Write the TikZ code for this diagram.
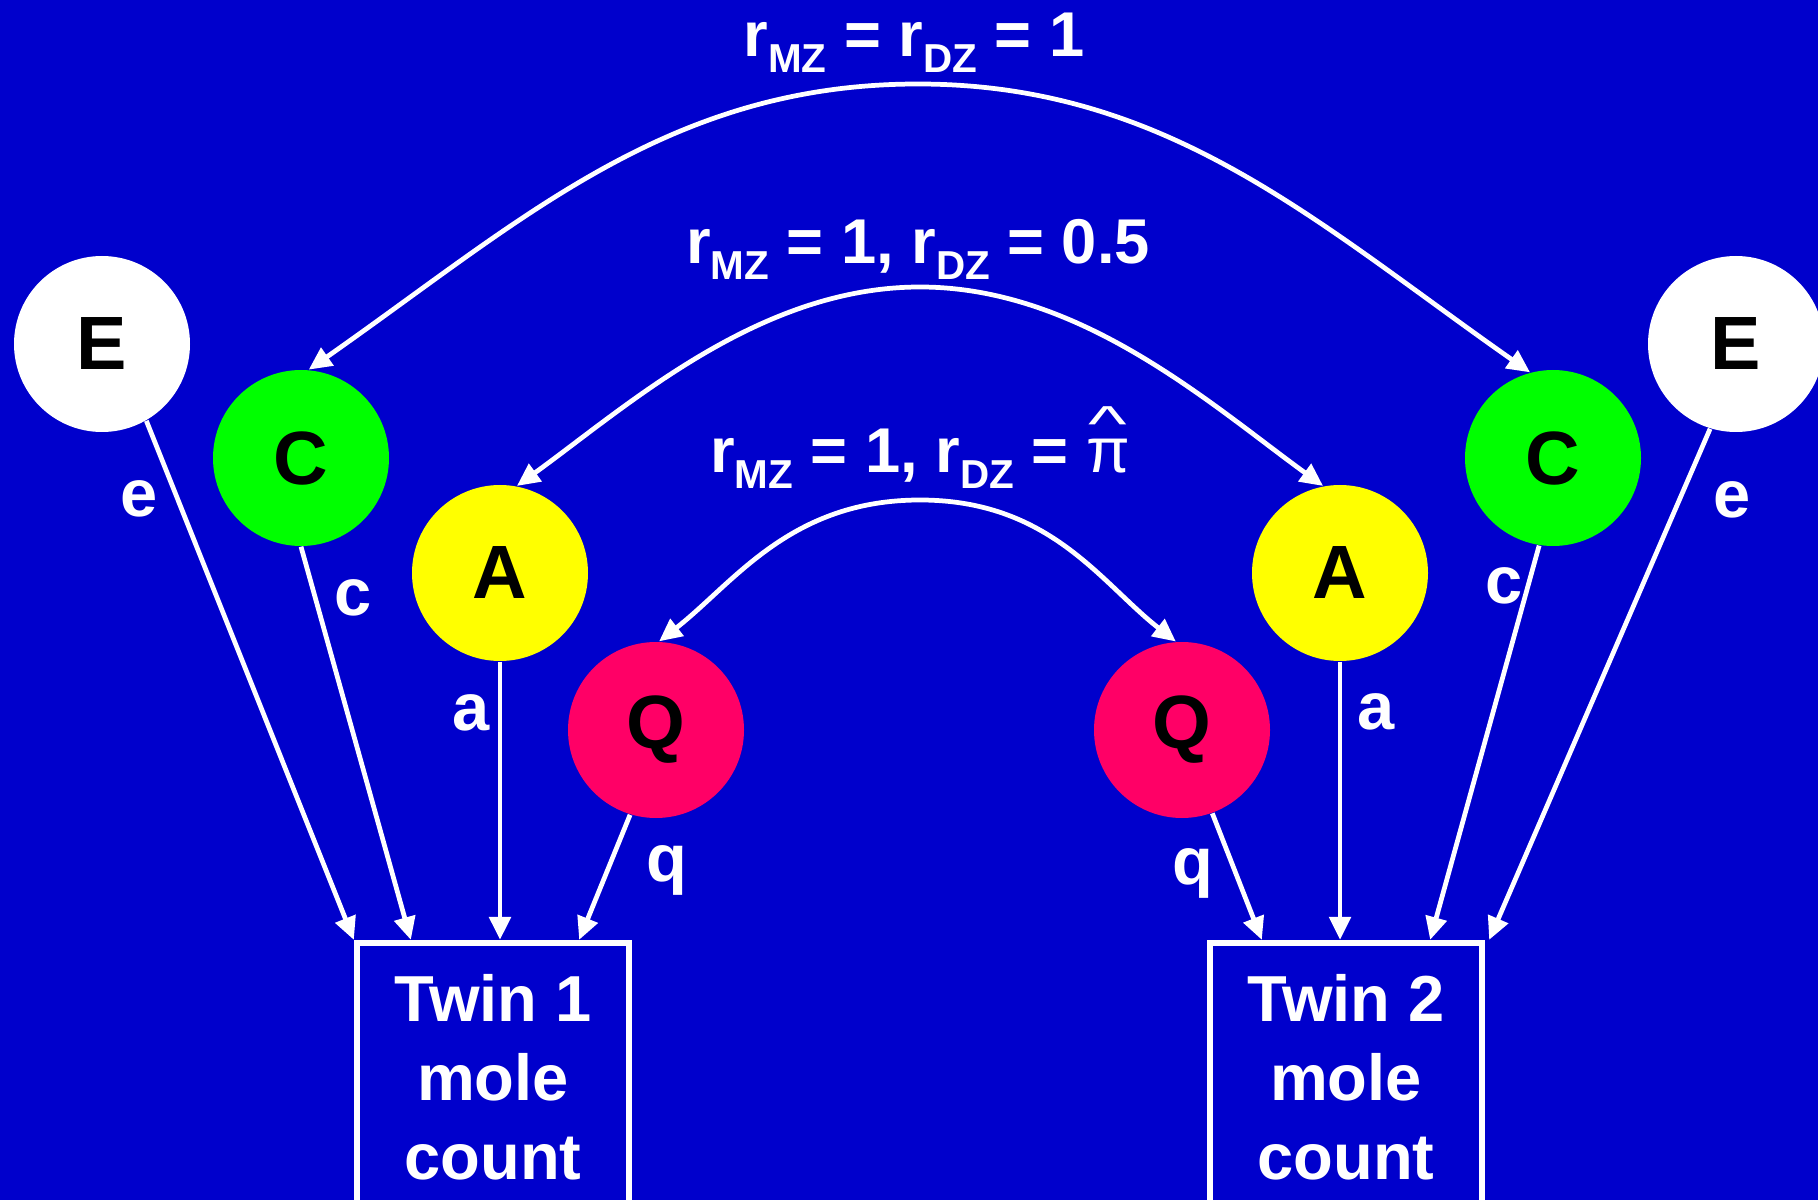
\documentclass[tikz,border=0pt]{standalone}
\usepackage{fontspec}
\setmainfont{Liberation Sans}
\usepackage{graphicx}
\usetikzlibrary{arrows.meta}
\definecolor{Back}{HTML}{0000CC}
\definecolor{Common}{HTML}{00FF00}
\definecolor{Additive}{HTML}{FFFF00}
\definecolor{Special}{HTML}{FF0066}
\newcommand{\rsub}[1]{r\raisebox{-4.5pt}{\fontsize{11.5}{12}\selectfont #1}}
\newcommand{\pihat}{{\mdseries\ooalign{π\cr\hidewidth\raisebox{0.5em}{\scalebox{1.3}[0.8]{\textasciicircum}}\hidewidth\cr}}}
\tikzset{
  factor/.style={circle, draw=none, minimum size=1.76cm, inner sep=0pt,
    font=\fontsize{21.5}{24}\selectfont\bfseries, text=black},
  measure/.style={rectangle, draw=white, line width=1.8pt, text=white,
    minimum width=2.72cm, minimum height=2.68cm, align=center,
    font=\fontsize{18.5}{22.5}\selectfont\bfseries},
  arrow/.style={-{Triangle[length=6.5pt,width=6pt]}, line width=1.35pt, draw=white},
  corr/.style={{Triangle[length=6.5pt,width=6pt]}-{Triangle[length=6.5pt,width=6pt]},
    line width=1.35pt, draw=white},
  pathlab/.style={text=white, font=\fontsize{19}{22}\selectfont\bfseries},
  corrlab/.style={text=white, anchor=base, inner sep=0pt,
    font=\fontsize{18}{22}\selectfont\bfseries}
}

\begin{document}
\begin{tikzpicture}
  \fill[Back] (0,0) rectangle (18.18,12);
  \useasboundingbox (0,0) rectangle (18.18,12);

  \node[factor, fill=white] (eL) at (1.02,8.56) {E};
  \node[factor, fill=Common] (cL) at (3.01,7.42) {C};
  \node[factor, fill=Additive] (aL) at (5.00,6.27) {A};
  \node[factor, fill=Special] (qL) at (6.56,4.70) {Q};
  \node[factor, fill=Special] (qR) at (11.82,4.70) {Q};
  \node[factor, fill=Additive] (aR) at (13.40,6.27) {A};
  \node[factor, fill=Common] (cR) at (15.53,7.42) {C};
  \node[factor, fill=white] (eR) at (17.36,8.56) {E};

  \node[measure] (twinA) at (4.93,1.23) {Twin 1\\mole\\count};
  \node[measure] (twinB) at (13.46,1.23) {Twin 2\\mole\\count};

  \node[pathlab] (eLabL) at (1.39,7.01) {e};
  \node[pathlab] (cLabL) at (3.53,6.02) {c};
  \node[pathlab] (aLabL) at (4.71,4.87) {a};
  \node[pathlab] (qLabL) at (6.67,3.30) {q};
  \node[pathlab] (qLabR) at (11.93,3.27) {q};
  \node[pathlab] (aLabR) at (13.76,4.88) {a};
  \node[pathlab] (cLabR) at (15.04,6.14) {c};
  \node[pathlab] (eLabR) at (17.32,7.00) {e};

  \node[corrlab] (rC) at (9.14,11.43) {\rsub{MZ} = \rsub{DZ} = 1};
  \node[corrlab] (rA) at (9.18,9.36) {\rsub{MZ} = 1, \rsub{DZ} = 0.5};
  \node[corrlab] (rQ) at (9.20,7.27) {\rsub{MZ} = 1, \rsub{DZ} = \pihat};

  \coordinate (topC) at (9.18,11.16);
  \coordinate (topA) at (9.20,9.13);
  \coordinate (topQ) at (9.20,7.00);

  \draw[corr] (cL.85) .. controls +(35:2.6) and +(-2.5,0) .. (topC)
    .. controls +(2.5,0) and +(145:2.6) .. (cR.105);
  \draw[corr] (aL.79) .. controls +(36:1.4) and +(-1.6,0) .. (topA)
    .. controls +(1.6,0) and +(144:1.4) .. (aR.101);
  \draw[corr] (qL.88) .. controls +(38:0.95) and +(-1.3,0) .. (topQ)
    .. controls +(1.3,0) and +(142:0.95) .. (qR.94);

  \draw[arrow] (eL.-60) -- (twinA.north west);
  \draw[arrow] (cL.south) -- ([xshift=0.57cm]twinA.north west);
  \draw[arrow] (aL.south) -- (aL.south |- twinA.north);
  \draw[arrow] (qL.-107) -- ([xshift=-0.53cm]twinA.north east);
  \draw[arrow] (qR.-70) -- ([xshift=0.55cm]twinB.north west);
  \draw[arrow] (aR.south) -- (aR.south |- twinB.north);
  \draw[arrow] (cR.-99) -- ([xshift=-0.55cm]twinB.north east);
  \draw[arrow] (eR.-107) -- ([xshift=0.04cm]twinB.north east);
\end{tikzpicture}
\end{document}
